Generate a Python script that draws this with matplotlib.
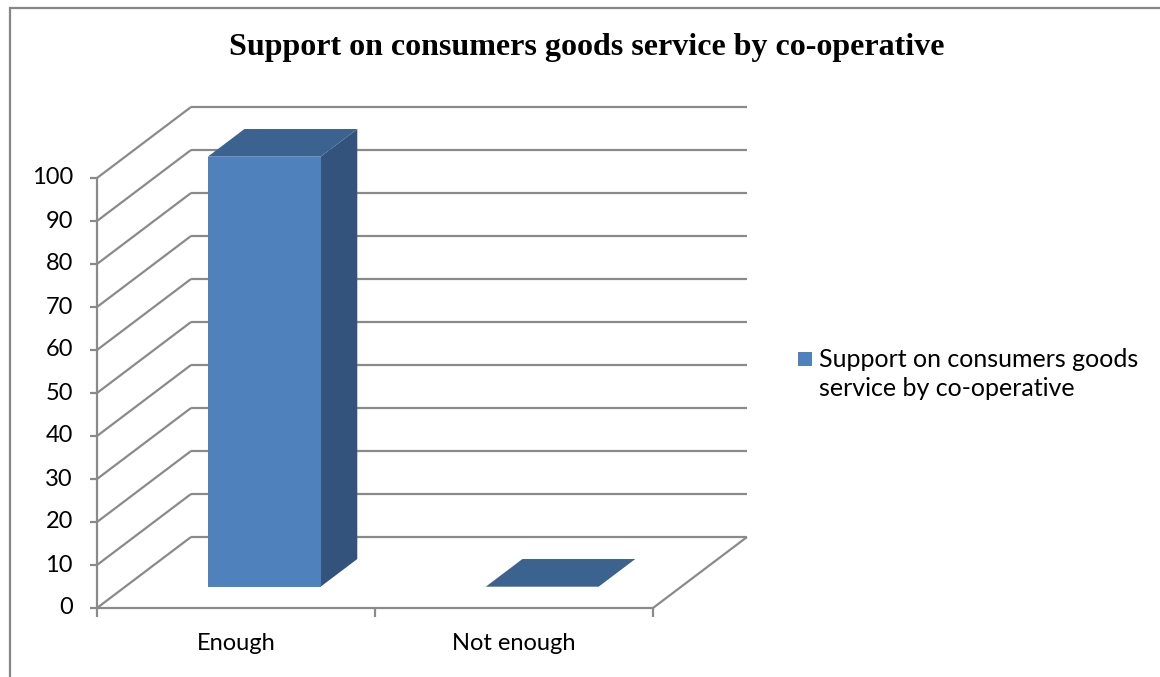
import matplotlib.pyplot as plt
from matplotlib.patches import Polygon, Rectangle
from matplotlib.transforms import IdentityTransform

# data
categories = ["Enough", "Not enough"]
values = [100, 0]
series_name = "Support on consumers goods service by co-operative"
title = "Support on consumers goods service by co-operative"
y_ticks = list(range(0, 101, 10))

W, H = 1160, 677
fig = plt.figure(figsize=(W / 100, H / 100), dpi=100)

# front plane of the 3d box (pixels, measured from top-left)
left, right, top, bottom = 97, 653, 178, 608
ax = fig.add_axes([left / W, 1 - bottom / H, (right - left) / W, (bottom - top) / H])
ax.set_xlim(0, len(categories))
ax.set_ylim(0, 100)
ax.axis('off')

DX, DY = 94, 71        # offset of the back wall
d0, d1 = 0.30, 0.69    # depth of the bars
half_w = 0.203
grid_c = '#8a8a8a'
txt_font = 'Lato'
ID = IdentityTransform()


def pt(x, v, d=0.0):
    px, py = ax.transData.transform((x, v))
    return (px + d * DX, py + d * DY)


def seg(p, q, z=1):
    ax.plot([p[0], q[0]], [p[1], q[1]], color=grid_c, lw=1.6,
            transform=ID, clip_on=False, zorder=z, solid_capstyle='butt')


n = len(categories)
# walls / gridlines
for v in y_ticks:
    seg(pt(0, v), pt(0, v, 1))
    seg(pt(0, v, 1), pt(n, v, 1))
    # tick mark on y axis
    p = pt(0, v)
    seg((p[0] - 7, p[1]), p, z=3)
    ax.text(p[0] - 24, p[1], str(v), transform=ID, ha='right', va='center',
            fontsize=17, family=txt_font, color='black')

# floor
seg(pt(0, 0), pt(n, 0), z=3)
seg(pt(n, 0), pt(n, 0, 1))
seg(pt(0, 0), pt(0, 100), z=3)
for i in range(n + 1):
    p = pt(i, 0)
    seg(p, (p[0], p[1] - 9), z=3)

for i, c in enumerate(categories):
    p = pt(i + 0.5, 0)
    ax.text(p[0], p[1] - 36, c, transform=ID, ha='center', va='center',
            fontsize=17, family=txt_font, color='black')

# bars
for i, v in enumerate(values):
    x0, x1 = i + 0.5 - half_w, i + 0.5 + half_w
    if v > 0:
        front = [pt(x0, 0, d0), pt(x1, 0, d0), pt(x1, v, d0), pt(x0, v, d0)]
        side = [pt(x1, 0, d0), pt(x1, 0, d1), pt(x1, v, d1), pt(x1, v, d0)]
        ax.add_patch(Polygon(side, closed=True, transform=ID, fc='#33527c',
                             ec='none', clip_on=False, zorder=5))
        ax.add_patch(Polygon(front, closed=True, transform=ID, fc='#4f81bd',
                             ec='none', clip_on=False, zorder=6))
    topf = [pt(x0, v, d0), pt(x1, v, d0), pt(x1, v, d1), pt(x0, v, d1)]
    ax.add_patch(Polygon(topf, closed=True, transform=ID, fc='#3c6390',
                         ec='none', clip_on=False, zorder=6))

# legend
fig.add_artist(Rectangle((798, H - 366), 14, 14, transform=ID, fc='#4f81bd', ec='none'))
fig.text(819 / W, 1 - 374 / H, "Support on consumers goods\nservice by co-operative",
         ha='left', va='center', fontsize=18, family=txt_font, linespacing=1.32)

# title
fig.text(587 / W, 1 - 48 / H, title, ha='center', va='center',
         fontsize=23, family='Liberation Serif', weight='bold')

# chart border
fig.add_artist(Rectangle((10, -5), W, H - 3, transform=ID, fc='none', ec='#868686', lw=1.6))

fig.savefig('out.png', dpi=100)
